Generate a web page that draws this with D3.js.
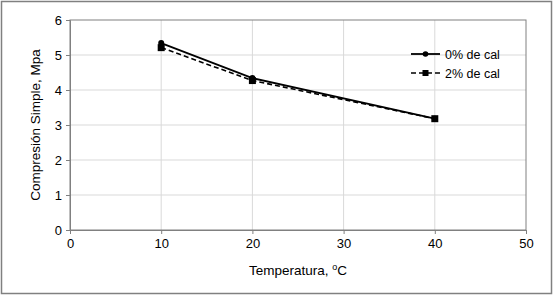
<!DOCTYPE html>
<html><head><meta charset="utf-8">
<script src="https://cdn.jsdelivr.net/npm/d3@7"></script>
<style>body{margin:0;background:#fff}svg{display:block;font-family:"Liberation Sans",Arial,sans-serif}</style>
</head><body>
<script>
const temps = [10, 20, 40];
const cal0 = [5.34, 4.34, 3.18];
const cal2 = [5.21, 4.27, 3.18];
const seriesNames = ["0% de cal", "2% de cal"];
const xTicks = [0, 10, 20, 30, 40, 50];
const yTicks = [0, 1, 2, 3, 4, 5, 6];

const W = 553, H = 296;
const m = {l: 70, r: 27, t: 20, b: 66};
const svg = d3.select("body").append("svg").attr("width", W).attr("height", H);
svg.append("rect").attr("x", 1.5).attr("y", 1.5).attr("width", W - 3).attr("height", H - 4)
  .attr("fill", "#fff").attr("stroke", "#808080").attr("stroke-width", 1.5);

const x = d3.scaleLinear().domain([0, 50]).range([m.l, W - m.r]);
const y = d3.scaleLinear().domain([0, 6]).range([H - m.b, m.t]);

const g = svg.append("g");
g.selectAll(".vg").data(xTicks.slice(1, -1)).join("line")
  .attr("x1", d => x(d)).attr("x2", d => x(d)).attr("y1", y(0)).attr("y2", y(6))
  .attr("stroke", "#d9d9d9").attr("stroke-width", 1);
g.selectAll(".hg").data(yTicks.slice(1, -1)).join("line")
  .attr("x1", x(0)).attr("x2", x(50)).attr("y1", d => y(d)).attr("y2", d => y(d))
  .attr("stroke", "#d9d9d9").attr("stroke-width", 1);
g.append("rect").attr("x", x(0)).attr("y", y(6)).attr("width", x(50) - x(0)).attr("height", y(0) - y(6))
  .attr("fill", "none").attr("stroke", "#808080").attr("stroke-width", 1);

const xAxis = svg.append("g").attr("transform", `translate(0,${y(0)})`)
  .call(d3.axisBottom(x).tickValues(xTicks).tickFormat(d3.format("d")).tickSize(4).tickPadding(5));
const yAxis = svg.append("g").attr("transform", `translate(${x(0)},0)`)
  .call(d3.axisLeft(y).tickValues(yTicks).tickFormat(d3.format("d")).tickSize(4).tickPadding(4));
[xAxis, yAxis].forEach(a => {
  a.select(".domain").attr("stroke", "#808080");
  a.selectAll(".tick line").attr("stroke", "#808080");
  a.selectAll("text").attr("font-size", 13).attr("fill", "#000")
    .attr("font-family", "Liberation Sans, Arial, sans-serif");
});

const xt = svg.append("text").attr("x", (x(0) + x(50)) / 2).attr("y", 275)
  .attr("text-anchor", "middle").attr("font-size", 13.5).attr("fill", "#000");
xt.append("tspan").text("Temperatura, ");
xt.append("tspan").attr("font-size", 9).attr("dy", -5).text("o");
xt.append("tspan").attr("dy", 5).text("C");
svg.append("text").attr("transform", `translate(40,${(y(0) + y(6)) / 2}) rotate(-90)`)
  .attr("text-anchor", "middle").attr("font-size", 13.5).attr("fill", "#000")
  .text("Compresión Simple, Mpa");

const line = d3.line().x((d, i) => x(temps[i])).y(d => y(d));
svg.append("path").datum(cal2).attr("d", line).attr("fill", "none")
  .attr("stroke", "#000").attr("stroke-width", 1.6).attr("stroke-dasharray", "5,3");
svg.append("path").datum(cal0).attr("d", line).attr("fill", "none")
  .attr("stroke", "#000").attr("stroke-width", 1.8);
svg.selectAll(".sq").data(cal2).join("rect")
  .attr("x", (d, i) => x(temps[i]) - 3.5).attr("y", d => y(d) - 3.5)
  .attr("width", 7).attr("height", 7).attr("fill", "#000");
svg.selectAll(".ci").data(cal0).join("circle")
  .attr("cx", (d, i) => x(temps[i])).attr("cy", d => y(d)).attr("r", 3).attr("fill", "#000");

const lg = svg.append("g");
const lx1 = 411, lx2 = 440;
[54, 73].forEach((ly, i) => {
  lg.append("line").attr("x1", lx1).attr("x2", lx2).attr("y1", ly).attr("y2", ly)
    .attr("stroke", "#000").attr("stroke-width", i ? 1.6 : 1.8)
    .attr("stroke-dasharray", i ? "5,3" : null);
  if (i) lg.append("rect").attr("x", (lx1 + lx2) / 2 - 3).attr("y", ly - 3).attr("width", 6).attr("height", 6).attr("fill", "#000");
  else lg.append("circle").attr("cx", (lx1 + lx2) / 2).attr("cy", ly).attr("r", 2.8).attr("fill", "#000");
  lg.append("text").attr("x", 445).attr("y", ly + 4.5).attr("font-size", 12.5).attr("fill", "#000").text(seriesNames[i]);
});
</script>
</body></html>
